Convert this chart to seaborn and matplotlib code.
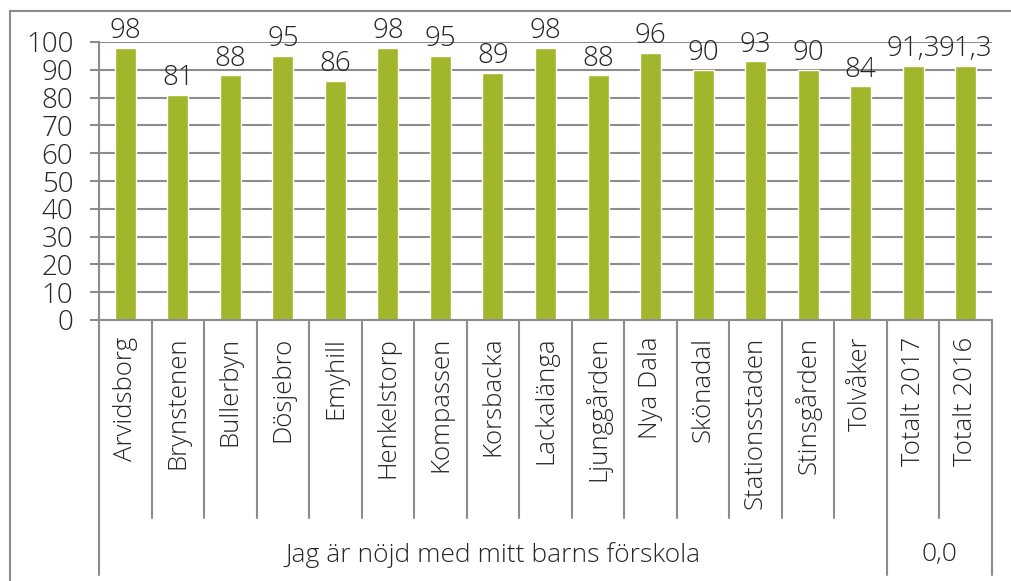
import matplotlib
matplotlib.use("Agg")
import matplotlib.pyplot as plt
import matplotlib.transforms as mtrans
from matplotlib.lines import Line2D
import seaborn as sns
import pandas as pd

# data
skolor = ["Arvidsborg", "Brynstenen", "Bullerbyn", "Dösjebro", "Emyhill",
          "Henkelstorp", "Kompassen", "Korsbacka", "Lackalänga", "Ljunggården",
          "Nya Dala", "Skönadal", "Stationsstaden", "Stinsgården", "Tolvåker",
          "Totalt 2017", "Totalt 2016"]
andel = [98, 81, 88, 95, 86, 98, 95, 89, 98, 88, 96, 90, 93, 90, 84, 91.3, 91.3]
grupper = ["Jag är nöjd med mitt barns förskola", "0,0"]
grupp_storlek = [15, 2]

df = pd.DataFrame({"skola": skolor, "andel": andel})

sns.set_style("white")
plt.rcParams["font.family"] = ["Open Sans", "DejaVu Sans"]
plt.rcParams["font.weight"] = "light"

gron = "#A2B62B"
gra = "#8C8C8C"
txt = "#262626"

fig = plt.figure(figsize=(10.11, 5.81), dpi=100)
ax = fig.add_axes([99/1011, 261/581, 893/1011, 278/581])

sns.barplot(data=df, x="skola", y="andel", color=gron, saturation=1,
            width=0.4, ax=ax)

ax.set_xlim(-0.5, len(skolor) - 0.5)
ax.set_ylim(0, 100)
ax.set_yticks(range(0, 101, 10))
ax.yaxis.grid(True, color=gra, lw=1.5)
ax.set_axisbelow(True)
ax.set_xlabel("")
ax.set_ylabel("")

for s in ["top", "right"]:
    ax.spines[s].set_visible(False)
for s in ["left", "bottom"]:
    ax.spines[s].set_color(gra)
    ax.spines[s].set_linewidth(1.5)

ax.tick_params(axis="y", length=6.5, width=1.5, color=gra, pad=12,
               labelsize=20, labelcolor=txt, left=True)
ax.tick_params(axis="x", length=0, pad=12, labelsize=18.5, labelcolor=txt,
               labelrotation=90)

# value labels
etiketter = [f"{v:g}".replace(".", ",") for v in andel]
ax.bar_label(ax.containers[0], labels=etiketter, padding=2, fontsize=20,
             color=txt)

# category dividers and group labels under the axis
tr = mtrans.blended_transform_factory(ax.transData, ax.transAxes)
grans = [0]
for n in grupp_storlek:
    grans.append(grans[-1] + n)
for k in range(len(skolor) + 1):
    low = -0.917 if k in grans else -0.712
    ax.plot([k - 0.5, k - 0.5], [0, low], transform=tr, clip_on=False,
            color=gra, lw=1.5)
for i, g in enumerate(grupper):
    mid = (grans[i] + grans[i + 1]) / 2 - 0.5
    ax.text(mid, -0.845, g, transform=tr, ha="center", va="center",
            fontsize=19, color=txt)

# outer chart border
fig.add_artist(Line2D([10/1011, 10/1011], [0, 1 - 11/581], color=gra, lw=1.5))
fig.add_artist(Line2D([10/1011, 1], [1 - 11/581, 1 - 11/581], color=gra, lw=1.5))

fig.savefig("out.png", dpi=100)
